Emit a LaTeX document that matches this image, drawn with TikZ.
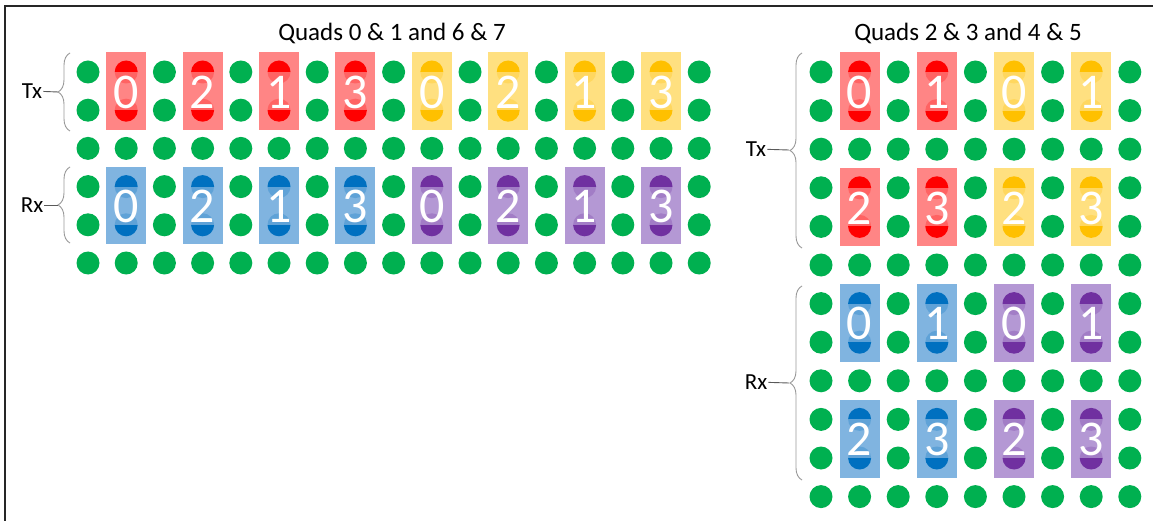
\documentclass[tikz,border=0pt]{standalone}
\usepackage{fontspec}
\setmainfont{Carlito}
\usetikzlibrary{decorations.pathreplacing}

\definecolor{pingreen}{HTML}{00B050}
\definecolor{txred}{HTML}{FF0000}
\definecolor{txredlt}{HTML}{FF8585}
\definecolor{txyel}{HTML}{FFC000}
\definecolor{txyellt}{HTML}{FFE080}
\definecolor{rxblue}{HTML}{0070C0}
\definecolor{rxbluelt}{HTML}{80B4E0}
\definecolor{rxpurp}{HTML}{7030A0}
\definecolor{rxpurplt}{HTML}{B498D4}

% one lane: name, x, y of upper pin, pin colour, box colour, lane number
\newcommand{\lanebox}[6]{%
  \fill[#5] (#2-20,#3-19.5) rectangle (#2+20,#3+\pitch+19.5);
  \fill[#4] (#2,#3) circle (11.5pt);
  \fill[#4] (#2,#3+\pitch) circle (11.5pt);
  \fill[#5,opacity=.75] (#2-20,#3) rectangle (#2+20,#3+\pitch);
  \node[digit] (#1) at (#2,#3+\pitch/2+1) {#6};
}

\begin{document}
\begin{tikzpicture}[x=1pt,y=-1pt,
  pin/.style={fill=pingreen},
  digit/.style={text=white,inner sep=0pt,font=\fontsize{50}{50}\selectfont},
  title/.style={font=\fontsize{25}{30}\selectfont},
  lbl/.style={inner sep=1pt,font=\fontsize{23}{28}\selectfont},
  brc/.style={draw=black!40,line width=0.9pt,decorate,decoration={brace,amplitude=12pt}},
  tick/.style={draw=black!65,line width=0.9pt}]
  \useasboundingbox (0,0) rectangle (1153,521);
  \draw[line width=2pt,black!85] (5,521) -- (5,6.5) -- (1153,6.5);

  % left block
  \def\pitch{38.2}
  \node[title] (titleL) at (392,33) {Quads 0 \& 1 and 6 \& 7};
  \foreach \i in {0,...,16}
    \foreach \j in {0,...,5}
      \fill[pin] (88+\pitch*\i,72+\pitch*\j) circle (11.5pt);
  \foreach \c/\d/\dk/\lt [count=\k] in {1/0/txred/txredlt,3/2/txred/txredlt,5/1/txred/txredlt,7/3/txred/txredlt,
      9/0/txyel/txyellt,11/2/txyel/txyellt,13/1/txyel/txyellt,15/3/txyel/txyellt}
    \lanebox{ltx\k}{88+38.2*\c}{72}{\dk}{\lt}{\d};
  \foreach \c/\d/\dk/\lt [count=\k] in {1/0/rxblue/rxbluelt,3/2/rxblue/rxbluelt,5/1/rxblue/rxbluelt,7/3/rxblue/rxbluelt,
      9/0/rxpurp/rxpurplt,11/2/rxpurp/rxpurplt,13/1/rxpurp/rxpurplt,15/3/rxpurp/rxpurplt}
    \lanebox{lrx\k}{88+38.2*\c}{186.6}{\dk}{\lt}{\d};

  \node[lbl] (txL) at (32,91) {Tx};
  \draw[brc] (70,131) -- (70,53);
  \coordinate (txLtip) at (58,92);
  \draw[tick] (txL) -- (txLtip);
  \node[lbl] (rxL) at (32,205) {Rx};
  \draw[brc] (70,243) -- (70,167);
  \coordinate (rxLtip) at (58,205);
  \draw[tick] (rxL) -- (rxLtip);

  % right block
  \def\pitch{38.6}
  \node[title] (titleR) at (968,33) {Quads 2 \& 3 and 4 \& 5};
  \foreach \i in {0,...,8}
    \foreach \j in {0,...,11}
      \fill[pin] (821+\pitch*\i,72+\pitch*\j) circle (11.5pt);
  \foreach \r/\d/\dk/\lt [count=\k] in {0/0/txred/txredlt,0/1/txred/txredlt,0/0/txyel/txyellt,0/1/txyel/txyellt,
      3/2/txred/txredlt,3/3/txred/txredlt,3/2/txyel/txyellt,3/3/txyel/txyellt,
      6/0/rxblue/rxbluelt,6/1/rxblue/rxbluelt,6/0/rxpurp/rxpurplt,6/1/rxpurp/rxpurplt,
      9/2/rxblue/rxbluelt,9/3/rxblue/rxbluelt,9/2/rxpurp/rxpurplt,9/3/rxpurp/rxpurplt}
  {
    \pgfmathtruncatemacro\c{2*mod(\k-1,4)+1}
    \lanebox{rq\k}{821+38.6*\c}{72+38.6*\r}{\dk}{\lt}{\d}
  }

  \node[lbl] (txR) at (756,149) {Tx};
  \draw[brc] (802,248) -- (802,53);
  \coordinate (txRtip) at (789,150);
  \draw[tick] (txR) -- (txRtip);
  \node[lbl] (rxR) at (756,382) {Rx};
  \draw[brc] (802,480) -- (802,286);
  \coordinate (rxRtip) at (789,383);
  \draw[tick] (rxR) -- (rxRtip);
\end{tikzpicture}
\end{document}
